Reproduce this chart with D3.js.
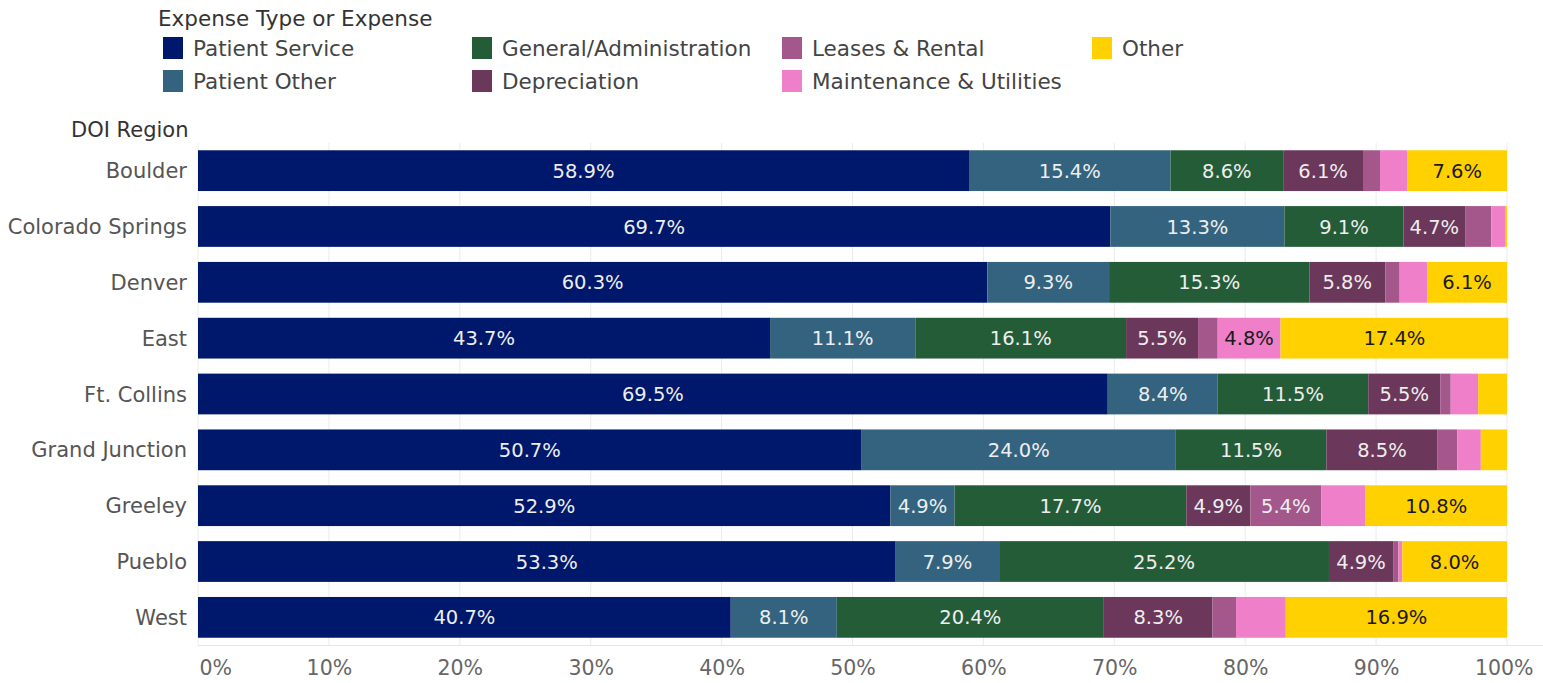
<!DOCTYPE html>
<html>
<head>
<meta charset="utf-8">
<script src="https://cdn.jsdelivr.net/npm/d3@7"></script>
<style>
  body { margin: 0; background: #fff; }
  svg text { font-family: "DejaVu Sans", Verdana, sans-serif; }
</style>
</head>
<body>
<div id="chart"></div>
<script>
// categories and series
var regions = ["Boulder", "Colorado Springs", "Denver", "East", "Ft. Collins",
               "Grand Junction", "Greeley", "Pueblo", "West"];
var expenseTypes = ["Patient Service", "Patient Other", "General/Administration",
                    "Depreciation", "Leases & Rental", "Maintenance & Utilities", "Other"];
var colors = ["#00186b", "#33637f", "#245c38", "#6b375b", "#a3578b", "#ee7fc8", "#ffd100"];

// percent of total per region, one array per expense type
var patientService = [58.9, 69.7, 60.3, 43.7, 69.5, 50.7, 52.9, 53.3, 40.7];
var patientOther   = [15.4, 13.3,  9.3, 11.1,  8.4, 24.0,  4.9,  7.9,  8.1];
var generalAdmin   = [ 8.6,  9.1, 15.3, 16.1, 11.5, 11.5, 17.7, 25.2, 20.4];
var depreciation   = [ 6.1,  4.7,  5.8,  5.5,  5.5,  8.5,  4.9,  4.9,  8.3];
var leasesRental   = [ 1.3,  2.0,  1.1,  1.5,  0.8,  1.5,  5.4,  0.4,  1.8];
var maintenance    = [ 2.1,  1.1,  2.1,  4.8,  2.1,  1.8,  3.4,  0.3,  3.8];
var other          = [ 7.6,  0.1,  6.1, 17.4,  2.2,  2.0, 10.8,  8.0, 16.9];
var xTicks = [0, 10, 20, 30, 40, 50, 60, 70, 80, 90, 100];

var series = [patientService, patientOther, generalAdmin, depreciation,
              leasesRental, maintenance, other];

var width = 1543, height = 683;
var margin = {left: 198, right: 36, top: 143, bottom: 38};

var svg = d3.select("#chart").append("svg")
    .attr("width", width)
    .attr("height", height);

var x = d3.scaleLinear().domain([0, 100]).range([margin.left, width - margin.right]);
var y = d3.scaleBand().domain(regions)
    .range([margin.top, height - margin.bottom])
    .paddingInner(0.27).paddingOuter(0.13);

// gridlines
svg.append("g").selectAll("line")
    .data(xTicks)
    .enter().append("line")
    .attr("x1", function(d) { return x(d); })
    .attr("x2", function(d) { return x(d); })
    .attr("y1", margin.top)
    .attr("y2", height - margin.bottom)
    .attr("stroke", "#ebebeb")
    .attr("stroke-width", 1);

svg.append("line")
    .attr("x1", margin.left).attr("x2", width)
    .attr("y1", height - margin.bottom + 0.5).attr("y2", height - margin.bottom + 0.5)
    .attr("stroke", "#e6e6e6");

// stack the rows
var rows = regions.map(function(r, i) {
    var row = {region: r};
    expenseTypes.forEach(function(k, j) { row[k] = series[j][i]; });
    return row;
});
var stacked = d3.stack().keys(expenseTypes)(rows);

var layers = svg.append("g").selectAll("g")
    .data(stacked)
    .enter().append("g")
    .attr("fill", function(d, i) { return colors[i]; });

layers.selectAll("rect")
    .data(function(d) { return d; })
    .enter().append("rect")
    .attr("x", function(d) { return x(d[0]); })
    .attr("width", function(d) { return Math.max(0, x(d[1]) - x(d[0])); })
    .attr("y", function(d) { return y(d.data.region); })
    .attr("height", y.bandwidth());

// segment labels
layers.each(function(layer, i) {
    var dark = (i === 5 || i === 6);
    d3.select(this).selectAll("text")
        .data(layer.filter(function(d) { return d[1] - d[0] >= 4.5; }))
        .enter().append("text")
        .attr("x", function(d) { return (x(d[0]) + x(d[1])) / 2; })
        .attr("y", function(d) { return y(d.data.region) + y.bandwidth() / 2; })
        .attr("dy", "0.36em")
        .attr("text-anchor", "middle")
        .attr("font-size", "19.5px")
        .attr("fill", dark ? "#1a1a1a" : "#eeeeee")
        .text(function(d) { return (d[1] - d[0]).toFixed(1) + "%"; });
});

// y axis labels
svg.append("g").selectAll("text")
    .data(regions)
    .enter().append("text")
    .attr("x", 187)
    .attr("y", function(d) { return y(d) + y.bandwidth() / 2; })
    .attr("dy", "0.36em")
    .attr("text-anchor", "end")
    .attr("font-size", "21px")
    .attr("fill", "#555")
    .text(function(d) { return d; });

svg.append("text")
    .attr("x", 71).attr("y", 137)
    .attr("font-size", "21px")
    .attr("fill", "#333")
    .text("DOI Region");

// x axis
var xAxis = svg.append("g")
    .attr("transform", "translate(0," + (height - margin.bottom) + ")")
    .call(d3.axisBottom(x).tickValues(xTicks)
        .tickFormat(function(d) { return d + "%"; })
        .tickSize(0).tickPadding(15));
xAxis.select(".domain").remove();
xAxis.selectAll("text")
    .attr("font-size", "20.5px")
    .attr("fill", "#666")
    .attr("font-family", "DejaVu Sans, sans-serif");
// keep the end labels inside the plot like the original
xAxis.selectAll(".tick").filter(function(d) { return d === 0; })
    .select("text").attr("text-anchor", "start").attr("x", 1);
xAxis.selectAll(".tick").filter(function(d) { return d === 100; })
    .select("text").attr("text-anchor", "end").attr("x", 26);

// legend
svg.append("text")
    .attr("x", 158).attr("y", 26)
    .attr("font-size", "21.5px")
    .attr("fill", "#333")
    .text("Expense Type or Expense");

var legendPos = [[163, 48], [163, 81], [472, 48], [472, 81], [782, 48], [782, 81], [1092, 48]];
var legend = svg.append("g").selectAll("g")
    .data(expenseTypes)
    .enter().append("g")
    .attr("transform", function(d, i) {
        return "translate(" + legendPos[i][0] + "," + legendPos[i][1] + ")";
    });
legend.append("rect")
    .attr("x", 0).attr("y", -11)
    .attr("width", 20).attr("height", 22)
    .attr("fill", function(d, i) { return colors[i]; });
legend.append("text")
    .attr("x", 30).attr("y", 0)
    .attr("dy", "0.36em")
    .attr("font-size", "21.5px")
    .attr("fill", "#444")
    .text(function(d) { return d; });
</script>
</body>
</html>
